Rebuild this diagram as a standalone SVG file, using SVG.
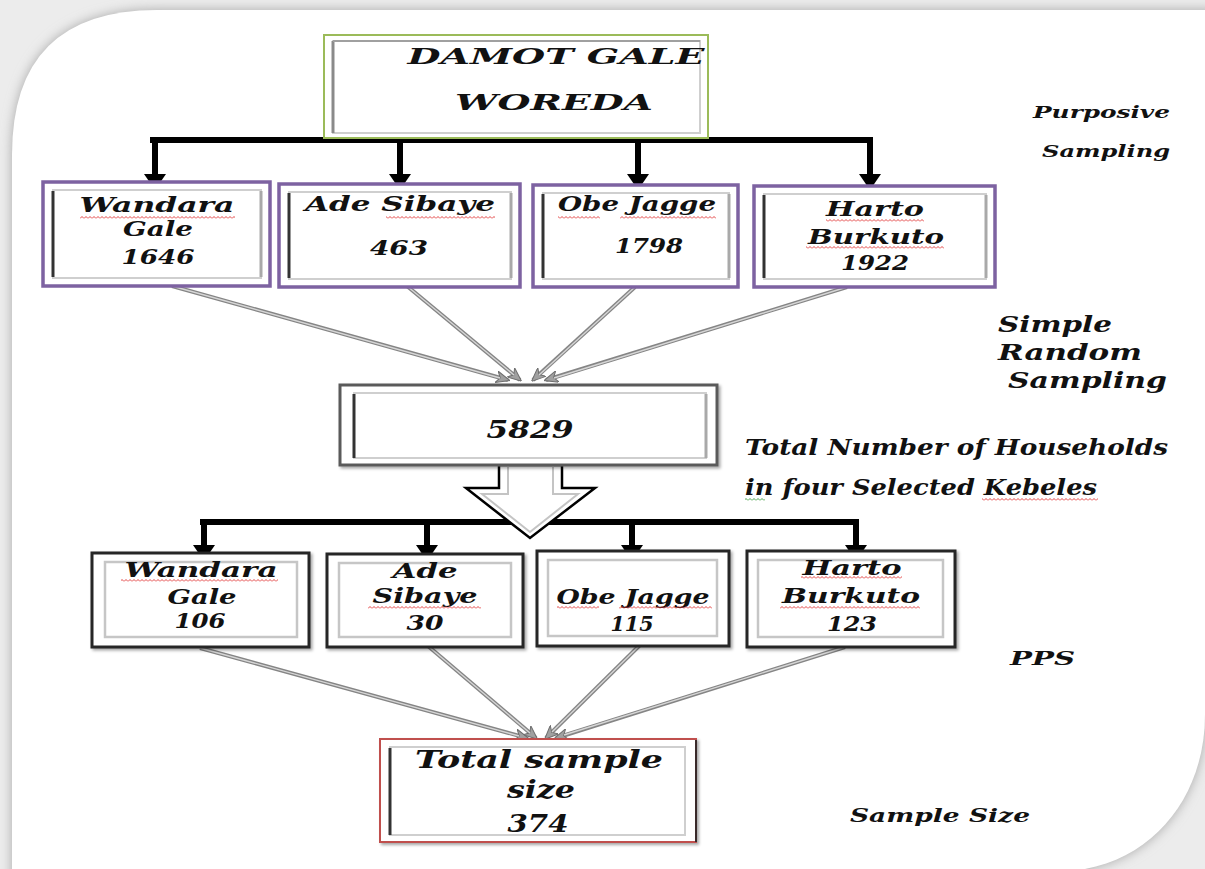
<svg xmlns="http://www.w3.org/2000/svg" width="1205" height="869" viewBox="0 0 1205 869">
<defs>
<style>
.t{font-family:"DejaVu Serif","Liberation Serif",serif;font-weight:bold;font-style:italic;fill:#111;}
.pur{fill:#fff;stroke:#7d62a1;stroke-width:3.5;}
.blk{fill:#fff;stroke:#262626;stroke-width:3;}
.inl{fill:none;stroke:#cfcfcf;stroke-width:2;}
.dk{stroke:#333;stroke-width:3;}
.lt{stroke:#a9a9a9;stroke-width:3;}
.tree{fill:none;stroke:#000;stroke-width:6;stroke-linejoin:miter;stroke-linecap:butt;}
.g1{fill:none;stroke:#858585;stroke-width:4;}
.g2{fill:none;stroke:#d6d6d6;stroke-width:1.4;}
</style>
<filter id="sh" x="-10%" y="-10%" width="130%" height="130%">
<feDropShadow dx="2" dy="2" stdDeviation="1.5" flood-color="#000" flood-opacity="0.35"/>
</filter>
<filter id="bl" x="-5%" y="-5%" width="110%" height="110%">
<feGaussianBlur stdDeviation="6"/>
</filter>
<marker id="ab" viewBox="0 0 16 22" refX="6" refY="11" markerWidth="16" markerHeight="22" markerUnits="userSpaceOnUse" orient="auto">
<path d="M0,0 L16,11 L0,22 Z" fill="#000"/>
</marker>
<marker id="ag" viewBox="0 0 14 12" refX="12" refY="6" markerWidth="14" markerHeight="12" markerUnits="userSpaceOnUse" orient="auto">
<path d="M0,0 L14,6 L0,12 L4,6 Z" fill="#a0a0a0" stroke="#6e6e6e" stroke-width="1"/>
</marker>
<pattern id="rw" patternUnits="userSpaceOnUse" width="4" height="3">
<path d="M0,2.5 L2,0.5 L4,2.5" fill="none" stroke="#e03030" stroke-width="0.9"/>
</pattern>
<pattern id="gw" patternUnits="userSpaceOnUse" width="4" height="3">
<path d="M0,2.5 L2,0.5 L4,2.5" fill="none" stroke="#3a9a3a" stroke-width="0.9"/>
</pattern>
</defs>

<!-- background -->
<rect x="0" y="0" width="1205" height="869" fill="#ececec"/>
<path d="M12,155 Q12,10 157,10 L1215,10 L1215,715 L1205,715 C1205,790 1160,855 1085,869 L1085,890 L12,890 Z" fill="#a8a8a8" filter="url(#bl)"/>
<path d="M12,155 Q12,10 157,10 L1205,10 L1205,715 C1205,790 1160,855 1085,869 L12,869 Z" fill="#fff"/>

<!-- connectors -->
<g id="connectors">
<path class="tree" d="M150,140 H873"/>
<line class="tree" x1="155" y1="140" x2="155" y2="180" marker-end="url(#ab)"/>
<line class="tree" x1="400" y1="140" x2="400" y2="180" marker-end="url(#ab)"/>
<line class="tree" x1="638" y1="140" x2="638" y2="180" marker-end="url(#ab)"/>
<line class="tree" x1="870" y1="140" x2="870" y2="180" marker-end="url(#ab)"/>

<line class="g1" x1="172" y1="286" x2="508" y2="380" marker-end="url(#ag)"/>
<line class="g2" x1="172" y1="286" x2="500" y2="378"/>
<line class="g1" x1="407" y1="286" x2="520" y2="380" marker-end="url(#ag)"/>
<line class="g2" x1="407" y1="286" x2="514" y2="375"/>
<line class="g1" x1="635" y1="287" x2="533" y2="380" marker-end="url(#ag)"/>
<line class="g2" x1="635" y1="287" x2="539" y2="375"/>
<line class="g1" x1="847" y1="287" x2="546" y2="380" marker-end="url(#ag)"/>
<line class="g2" x1="847" y1="287" x2="554" y2="378"/>

<path class="tree" d="M200,522 H859"/>
<line class="tree" x1="204" y1="522" x2="204" y2="551" marker-end="url(#ab)"/>
<line class="tree" x1="427" y1="522" x2="427" y2="551" marker-end="url(#ab)"/>
<line class="tree" x1="632" y1="522" x2="632" y2="551" marker-end="url(#ab)"/>
<line class="tree" x1="856" y1="522" x2="856" y2="551" marker-end="url(#ab)"/>

<g id="hollow-arrow">
<polygon points="499,465 499,488 466,488 530,538 595,488 562,488 562,465" fill="#fff" stroke="#000" stroke-width="2.5" stroke-linejoin="miter"/>
<polyline points="508,466 508,494 482,494 530,532 578,494 553,494 553,466" fill="none" stroke="#c4c4c4" stroke-width="2"/>
</g>

<line class="g1" x1="200" y1="648" x2="527" y2="738" marker-end="url(#ag)"/>
<line class="g2" x1="200" y1="648" x2="519" y2="736"/>
<line class="g1" x1="428" y1="646" x2="536" y2="738" marker-end="url(#ag)"/>
<line class="g2" x1="428" y1="646" x2="530" y2="733"/>
<line class="g1" x1="640" y1="645" x2="546" y2="738" marker-end="url(#ag)"/>
<line class="g2" x1="640" y1="645" x2="552" y2="732"/>
<line class="g1" x1="845" y1="647" x2="556" y2="738" marker-end="url(#ag)"/>
<line class="g2" x1="845" y1="647" x2="564" y2="735"/>
</g>

<!-- top node -->
<g id="n-damot">
<rect x="324" y="35" width="384" height="103" fill="#fff" stroke="#9bbb59" stroke-width="2"/>
<rect x="333" y="41" width="367" height="92" fill="none" stroke="#cfcfcf" stroke-width="2"/>
<line x1="333" y1="41" x2="333" y2="133" stroke="#8a8a8a" stroke-width="3"/>
<line x1="333" y1="41" x2="700" y2="41" stroke="#a0a0a0" stroke-width="2"/>
<text class="t" x="556" y="64" font-size="23" text-anchor="middle" textLength="297" lengthAdjust="spacingAndGlyphs">DAMOT GALE</text>
<text class="t" x="554" y="110" font-size="23" text-anchor="middle" textLength="198" lengthAdjust="spacingAndGlyphs">WOREDA</text>
</g>

<!-- row 1 -->
<g id="n-wandara-1">
<rect class="pur" x="43" y="182" width="227" height="104"/>
<rect class="inl" x="53" y="190" width="208" height="88"/>
<line class="dk" x1="53" y1="191" x2="53" y2="277"/>
<line class="lt" x1="261" y1="191" x2="261" y2="277"/>
<text class="t" x="157" y="212" font-size="21" text-anchor="middle" textLength="155" lengthAdjust="spacingAndGlyphs">Wandara</text>
<text class="t" x="158" y="236" font-size="21" text-anchor="middle" textLength="70" lengthAdjust="spacingAndGlyphs">Gale</text>
<text class="t" x="158" y="264" font-size="21" text-anchor="middle" textLength="73" lengthAdjust="spacingAndGlyphs">1646</text>
<rect x="80" y="216" width="155" height="3" fill="url(#rw)"/>
</g>
<g id="n-ade-1">
<rect class="pur" x="279" y="184" width="241" height="103"/>
<rect class="inl" x="289" y="192" width="222" height="87"/>
<line class="dk" x1="289" y1="193" x2="289" y2="278"/>
<line class="lt" x1="511" y1="193" x2="511" y2="278"/>
<text class="t" x="400" y="211" font-size="21" text-anchor="middle" textLength="190" lengthAdjust="spacingAndGlyphs">Ade Sibaye</text>
<text class="t" x="399" y="255" font-size="21" text-anchor="middle" textLength="58" lengthAdjust="spacingAndGlyphs">463</text>
<rect x="386" y="216" width="109" height="3" fill="url(#rw)"/>
</g>
<g id="n-obe-1">
<rect class="pur" x="533" y="185" width="205" height="102"/>
<rect class="inl" x="543" y="193" width="186" height="86"/>
<line class="dk" x1="543" y1="194" x2="543" y2="278"/>
<line class="lt" x1="729" y1="194" x2="729" y2="278"/>
<text class="t" x="637" y="211" font-size="21" text-anchor="middle" textLength="158" lengthAdjust="spacingAndGlyphs">Obe Jagge</text>
<text class="t" x="649" y="253" font-size="21" text-anchor="middle" textLength="68" lengthAdjust="spacingAndGlyphs">1798</text>
<rect x="558" y="216" width="42" height="3" fill="url(#rw)"/>
<rect x="620" y="216" width="96" height="3" fill="url(#rw)"/>
</g>
<g id="n-harto-1">
<rect class="pur" x="754" y="186" width="241" height="101"/>
<rect class="inl" x="764" y="194" width="222" height="85"/>
<line class="dk" x1="764" y1="195" x2="764" y2="278"/>
<line class="lt" x1="986" y1="195" x2="986" y2="278"/>
<text class="t" x="875" y="216" font-size="21" text-anchor="middle" textLength="98" lengthAdjust="spacingAndGlyphs">Harto</text>
<text class="t" x="876" y="244" font-size="21" text-anchor="middle" textLength="136" lengthAdjust="spacingAndGlyphs">Burkuto</text>
<text class="t" x="875" y="270" font-size="21" text-anchor="middle" textLength="68" lengthAdjust="spacingAndGlyphs">1922</text>
<rect x="826" y="219" width="98" height="3" fill="url(#rw)"/>
<rect x="806" y="246" width="138" height="3" fill="url(#rw)"/>
</g>

<!-- total households -->
<g id="n-5829">
<rect x="340" y="385" width="377" height="80" fill="#fff" stroke="#5a5a5a" stroke-width="3" filter="url(#sh)"/>
<rect class="inl" x="354" y="393" width="352" height="65"/>
<line class="dk" x1="354" y1="394" x2="354" y2="458"/>
<line class="lt" x1="706" y1="394" x2="706" y2="458"/>
<text class="t" x="530" y="438" font-size="25" text-anchor="middle" textLength="87" lengthAdjust="spacingAndGlyphs">5829</text>
</g>

<!-- row 2 -->
<g id="n-wandara-2">
<rect class="blk" x="92" y="553" width="217" height="94" filter="url(#sh)"/>
<rect x="105" y="562" width="192" height="75" fill="none" stroke="#c6c6c6" stroke-width="2.5"/>
<text class="t" x="201" y="577" font-size="21" text-anchor="middle" textLength="153" lengthAdjust="spacingAndGlyphs">Wandara</text>
<text class="t" x="202" y="604" font-size="21" text-anchor="middle" textLength="69" lengthAdjust="spacingAndGlyphs">Gale</text>
<text class="t" x="200" y="628" font-size="21" text-anchor="middle" textLength="51" lengthAdjust="spacingAndGlyphs">106</text>
<rect x="121" y="579" width="157" height="3" fill="url(#rw)"/>
</g>
<g id="n-ade-2">
<rect class="blk" x="327" y="554" width="196" height="93" filter="url(#sh)"/>
<rect x="339" y="563" width="172" height="74" fill="none" stroke="#c6c6c6" stroke-width="2.5"/>
<text class="t" x="425" y="578" font-size="21" text-anchor="middle" textLength="65" lengthAdjust="spacingAndGlyphs">Ade</text>
<text class="t" x="425" y="603" font-size="21" text-anchor="middle" textLength="105" lengthAdjust="spacingAndGlyphs">Sibaye</text>
<text class="t" x="425" y="630" font-size="21" text-anchor="middle" textLength="37" lengthAdjust="spacingAndGlyphs">30</text>
<rect x="368" y="606" width="113" height="3" fill="url(#rw)"/>
</g>
<g id="n-obe-2">
<rect class="blk" x="537" y="551" width="192" height="95" filter="url(#sh)"/>
<rect x="548" y="560" width="169" height="76" fill="none" stroke="#c6c6c6" stroke-width="2.5"/>
<text class="t" x="633" y="604" font-size="21" text-anchor="middle" textLength="153" lengthAdjust="spacingAndGlyphs">Obe Jagge</text>
<text class="t" x="632" y="631" font-size="21" text-anchor="middle" textLength="43" lengthAdjust="spacingAndGlyphs">115</text>
<rect x="557" y="606" width="42" height="3" fill="url(#rw)"/>
<rect x="619" y="606" width="93" height="3" fill="url(#rw)"/>
</g>
<g id="n-harto-2">
<rect class="blk" x="747" y="551" width="208" height="96" filter="url(#sh)"/>
<rect x="758" y="560" width="185" height="77" fill="none" stroke="#c6c6c6" stroke-width="2.5"/>
<text class="t" x="852" y="575" font-size="21" text-anchor="middle" textLength="99" lengthAdjust="spacingAndGlyphs">Harto</text>
<text class="t" x="851" y="603" font-size="21" text-anchor="middle" textLength="138" lengthAdjust="spacingAndGlyphs">Burkuto</text>
<text class="t" x="852" y="631" font-size="21" text-anchor="middle" textLength="50" lengthAdjust="spacingAndGlyphs">123</text>
<rect x="801" y="576" width="101" height="3" fill="url(#rw)"/>
<rect x="780" y="606" width="140" height="3" fill="url(#rw)"/>
</g>

<!-- total sample -->
<g id="n-total">
<rect x="380" y="739" width="316" height="103" fill="#fff" stroke="#c0504d" stroke-width="2" filter="url(#sh)"/>
<line x1="696" y1="740" x2="696" y2="842" stroke="#3a2a2a" stroke-width="2"/>
<rect class="inl" x="390" y="747" width="295" height="88"/>
<line class="dk" x1="390" y1="748" x2="390" y2="835"/>
<text class="t" x="539" y="768" font-size="24" text-anchor="middle" textLength="248" lengthAdjust="spacingAndGlyphs">Total sample</text>
<text class="t" x="541" y="798" font-size="24" text-anchor="middle" textLength="68" lengthAdjust="spacingAndGlyphs">size</text>
<text class="t" x="538" y="832" font-size="24" text-anchor="middle" textLength="61" lengthAdjust="spacingAndGlyphs">374</text>
</g>

<!-- side labels -->
<g id="labels">
<text class="t" x="1033" y="118" font-size="16" textLength="137" lengthAdjust="spacingAndGlyphs">Purposive</text>
<text class="t" x="1042" y="157" font-size="16" textLength="128" lengthAdjust="spacingAndGlyphs">Sampling</text>
<text class="t" x="998" y="332" font-size="22" textLength="114" lengthAdjust="spacingAndGlyphs">Simple</text>
<text class="t" x="998" y="360" font-size="22" textLength="144" lengthAdjust="spacingAndGlyphs">Random</text>
<text class="t" x="1008" y="388" font-size="22" textLength="159" lengthAdjust="spacingAndGlyphs">Sampling</text>
<text class="t" x="745" y="455" font-size="22" textLength="423" lengthAdjust="spacingAndGlyphs">Total Number of Households</text>
<text class="t" x="745" y="495" font-size="22" textLength="352" lengthAdjust="spacingAndGlyphs">in four Selected Kebeles</text>
<rect x="745" y="498" width="20" height="3" fill="url(#gw)"/>
<rect x="982" y="498" width="116" height="3" fill="url(#rw)"/>
<text class="t" x="1010" y="665" font-size="18" textLength="65" lengthAdjust="spacingAndGlyphs">PPS</text>
<text class="t" x="850" y="822" font-size="19" textLength="180" lengthAdjust="spacingAndGlyphs">Sample Size</text>
</g>
</svg>
